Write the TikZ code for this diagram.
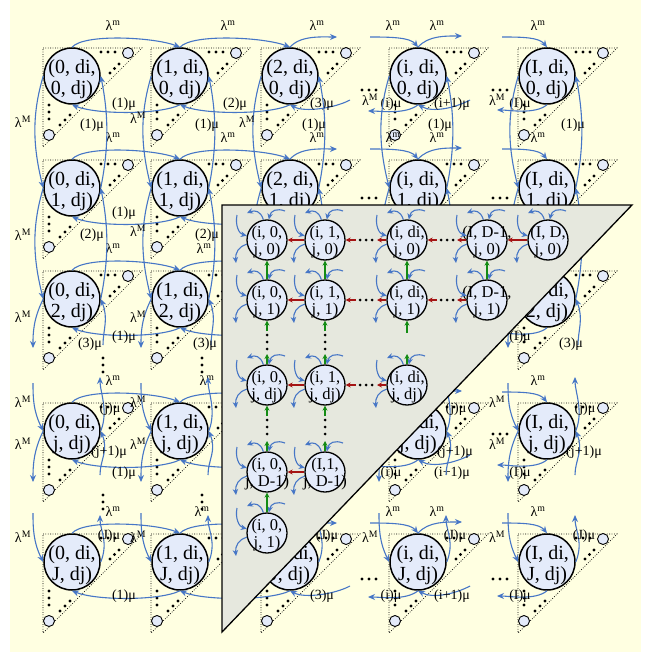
\documentclass[tikz,border=0pt]{standalone}
\usepackage{fontspec}
\setmainfont{Liberation Serif}
\usetikzlibrary{arrows.meta}
\definecolor{bgyel}{RGB}{255,255,225}
\definecolor{cfill}{RGB}{228,235,250}
\definecolor{arrblue}{RGB}{70,118,198}
\definecolor{trigray}{RGB}{230,232,222}
\definecolor{dred}{RGB}{165,20,20}
\definecolor{dgreen}{RGB}{20,140,20}
\tikzset{
  bigc/.style={circle,draw=black,line width=1.5pt,fill=cfill,minimum size=56pt,inner sep=0pt},
  bigt/.style={inner sep=0pt,font=\fontsize{20}{21}\selectfont,align=center},
  smallc/.style={circle,draw=black,line width=1.3pt,fill=cfill,minimum size=40pt,inner sep=0pt},
  smallt/.style={inner sep=0pt,font=\fontsize{16.5}{17}\selectfont,align=center},
  barr/.style={draw=arrblue,line width=1.1pt,-{Stealth[length=7pt,width=6pt]}},
  sarr/.style={draw=arrblue,line width=1.1pt,-{Stealth[length=6pt,width=5.5pt]}},
  rarr/.style={draw=dred,line width=1.4pt,-{Stealth[length=5pt,width=5pt]}},
  garr/.style={draw=dgreen,line width=1.2pt,-{Stealth[length=5pt,width=5pt]}},
  lab/.style={inner sep=0pt,font=\fontsize{14}{14}\selectfont},
  dotl/.style={line width=0.7pt,dash pattern=on 0.8pt off 1.6pt},
}
\newcommand\Lmin{λ\textsuperscript{m}}
\newcommand\LMax{λ\textsuperscript{M}}
% label placed only where the grey triangle does not cover it
\newcommand\Lab[4]{%
  \pgfmathtruncatemacro\LabHid{((#2>214)&&(#3>199)&&(#2+#3<852))?1:0}%
  \ifnum\LabHid=0 \node[lab] (#1) at (#2,#3) {#4};\fi
}
% big cell: name, x, y, text
\newcommand\BigCell[4]{%
  \draw[dotl] (#2-29,#3-28) -- (#2+70,#3-28) -- (#2-29,#3+71) -- cycle;
  \draw[line width=0.9pt,fill=cfill] (#2+56,#3-23) circle (5.5pt);
  \draw[line width=0.9pt,fill=cfill] (#2-23,#3+59) circle (5.5pt);
  \foreach \d in {0,7,14}{\fill (#2+29+\d,#3-24) circle (1.6pt);}
  \foreach \d in {0,4.5,9}{\fill (#2+38+\d,#3-3-\d) circle (1.6pt);}
  \foreach \d in {0,7,14}{\fill (#2-23,#3+29+\d) circle (1.6pt);}
  \foreach \d in {0,5,10}{\fill (#2-12+\d,#3+49-\d) circle (1.6pt);}
  \node[bigc] (#1) at (#2,#3) {};
  \pgfmathtruncatemacro\CellHid{((#2>214)&&(#3>199)&&(#2+#3<814))?1:0}%
  \ifnum\CellHid=0 \node[bigt] (#1t) at (#2,#3+3) {#4};\fi
}
% horizontal arrows of a row: row, y, mu label dy, x of 2nd lambda label
\newcommand\HRow[4]{%
  \draw[barr] (B0#1.north) .. controls +(12,-14) and +(-25,-10) .. (B1#1.north);
  \Lab{Lma#1}{113}{#2-50}{\Lmin}
  \draw[barr] (B1#1.south) .. controls +(-20,10) and +(25,10) .. (B0#1.south);
  \Lab{Mua#1}{124}{#2+#3}{(1)μ}
  \draw[barr] (B1#1.north) .. controls +(12,-14) and +(-25,-10) .. (B2#1.north);
  \Lab{Lmb#1}{#4}{#2-50}{\Lmin}
  \draw[barr] (B2#1.south) .. controls +(-20,10) and +(25,10) .. (B1#1.south);
  \Lab{Mub#1}{235}{#2+#3}{(2)μ}
  \coordinate (HAa#1) at (337,#2-39);
  \draw[barr] (B2#1.north) .. controls +(10,-12) and +(-15,0) .. (HAa#1);
  \Lab{Lmc#1}{317}{#2-50}{\Lmin}
  \coordinate (HAb#1) at (350,#2+24);
  \draw[barr] (HAb#1) .. controls +(-15,8) and +(15,8) .. (B2#1.south);
  \Lab{Muc#1}{322}{#2+#3}{(3)μ}
  \coordinate (HBa#1) at (370,#2-39);
  \draw[barr] (HBa#1) .. controls +(20,0) and +(-8,-10) .. (Bi#1.north);
  \Lab{Lmd#1}{393}{#2-50}{\Lmin}
  \coordinate (HBb#1) at (368,#2+35);
  \draw[barr] (Bi#1.south) .. controls +(-12,10) and +(12,0) .. (HBb#1);
  \Lab{Mud#1}{391}{#2+#3}{(i)μ}
  \coordinate (HCa#1) at (462,#2-40);
  \draw[barr] (Bi#1.north) .. controls +(10,-12) and +(-15,0) .. (HCa#1);
  \Lab{Lme#1}{437}{#2-50}{\Lmin}
  \coordinate (HCb#1) at (470,#2+24);
  \draw[barr] (HCb#1) .. controls +(-15,8) and +(15,8) .. (Bi#1.south);
  \Lab{Mue#1}{452}{#2+#3}{(i+1)μ}
  \coordinate (HDa#1) at (502,#2-39);
  \draw[barr] (HDa#1) .. controls +(20,0) and +(-8,-10) .. (BI#1.north);
  \Lab{Lmf#1}{538}{#2-50}{\Lmin}
  \coordinate (HDb#1) at (497,#2+34);
  \draw[barr] (BI#1.south) .. controls +(-12,10) and +(12,0) .. (HDb#1);
  \Lab{Muf#1}{520}{#2+#3}{(I)μ}
}
% vertical arrows of a column: col, x, mu label dx, lambda-M label dx, first lambda-M label y
\newcommand\VCol[5]{%
  \draw[barr] (B#10.west) .. controls +(-12,40) and +(-10,-40) .. (B#11.west);
  \Lab{LMa#1}{#2-#4}{#5}{\LMax}
  \draw[barr] (B#11.east) .. controls +(8,-40) and +(8,40) .. (B#10.east);
  \Lab{MVa#1}{#2+#3}{125}{(1)μ}
  \draw[barr] (B#11.west) .. controls +(-12,40) and +(-10,-40) .. (B#12.west);
  \Lab{LMb#1}{#2-#4}{#5+113}{\LMax}
  \draw[barr] (B#12.east) .. controls +(8,-40) and +(8,40) .. (B#11.east);
  \Lab{MVb#1}{#2+#3}{235}{(2)μ}
  \coordinate (VAa#1) at (#2-39,348);
  \draw[barr] (B#12.west) .. controls +(-10,20) and +(0,-15) .. (VAa#1);
  \Lab{LMc#1}{#2-#4}{317}{\LMax}
  \coordinate (VAb#1) at (#2+31,345);
  \draw[barr] (VAb#1) .. controls +(0,-15) and +(8,20) .. (B#12.east);
  \Lab{MVc#1}{#2+#3-2}{344}{(3)μ}
  \coordinate (VBa#1) at (#2-39,383);
  \draw[barr] (VBa#1) .. controls +(0,15) and +(-10,-20) .. (B#1j.west);
  \Lab{LMd#1}{#2-#4}{402}{\LMax}
  \coordinate (VBb#1) at (#2+28,377);
  \draw[barr] (B#1j.east) .. controls +(8,-20) and +(0,15) .. (VBb#1);
  \Lab{MVd#1}{#2+38}{409}{(j)μ}
  \coordinate (VCa#1) at (#2-39,482);
  \draw[barr] (B#1j.west) .. controls +(-10,20) and +(0,-15) .. (VCa#1);
  \Lab{LMe#1}{#2-#4}{444}{\LMax}
  \coordinate (VCb#1) at (#2+28,475);
  \draw[barr] (VCb#1) .. controls +(0,-15) and +(8,20) .. (B#1j.east);
  \Lab{MVe#1}{#2+37}{452}{(j+1)μ}
  \coordinate (VDa#1) at (#2-39,513);
  \draw[barr] (VDa#1) .. controls +(0,15) and +(-10,-20) .. (B#1J.west);
  \Lab{LMf#1}{#2-#4}{537}{\LMax}
  \coordinate (VDb#1) at (#2+28,515);
  \draw[barr] (B#1J.east) .. controls +(8,-20) and +(0,15) .. (VDb#1);
  \Lab{MVf#1}{#2+37}{536}{(J)μ}
}
% small cell: name, x, y, text
\newcommand\SCell[4]{%
  \node[smallc] (#1) at (#2,#3) {};
  \node[smallt] (#1t) at (#2,#3+2) {#4};
  \coordinate (#1tl) at (#2-20,#3-27);
  \coordinate (#1tr) at (#2+18,#3-29);
  \coordinate (#1la) at (#2-30,#3-25);
  \coordinate (#1lb) at (#2-31,#3+23);
  \draw[sarr] (#1.100) .. controls +(-3,-9) and +(8,-3) .. (#1tl);
  \draw[sarr] (#1tr) .. controls +(-8,-3) and +(2,-9) .. (#1.85);
  \draw[sarr] (#1la) .. controls +(-2,10) and +(-8,-2) .. (#1.168);
  \draw[sarr] (#1.192) .. controls +(-8,2) and +(-1,-10) .. (#1lb);
}
\begin{document}
\begin{tikzpicture}[x=1pt,y=-1pt]
\useasboundingbox (0,0) rectangle (645,655);
\fill[bgyel] (10,0) rectangle (641,652);
% big grid
\foreach \colN/\colX in {0/72,1/180,2/290,i/418,I/547}{
  \foreach \rowN/\rowY in {0/76,1/188,2/299,j/431,J/562}{
    \BigCell{B\colN\rowN}{\colX}{\rowY}{(\colN, di,\\ \rowN, dj)}
  }
}
\HRow{0}{76}{28}{228}
\HRow{1}{188}{25}{228}
\HRow{2}{299}{38}{204}
\HRow{j}{431}{42}{207}
\HRow{J}{562}{34}{202}
\VCol{0}{72}{20}{49}{122}
\VCol{1}{180}{27}{42}{118}
\VCol{2}{290}{24}{43}{122}
\VCol{i}{418}{22}{48}{100}
\VCol{I}{547}{26}{50}{100}
% separators
\foreach \y in {90,198,579}{\foreach \x in {362,369,376}{\fill (\x,\y) circle (1.6pt);}}
\foreach \y in {90,198,434,579}{\foreach \x in {493,500,507}{\fill (\x,\y) circle (1.6pt);}}
\foreach \x in {103,202}{\foreach \y in {358,365,372,495,502,509}{\fill (\x,\y) circle (1.6pt);}}
% gray triangle
\draw[fill=trigray,line width=1.3pt] (222,205) -- (632,205) -- (222,632) -- cycle;
% small grid
\SCell{Sa0}{267}{240}{(i, 0,\\ j, 0)}
\SCell{Sb0}{325}{240}{(i, 1,\\ j, 0)}
\SCell{Sc0}{407}{240}{(i, di,\\ j, 0)}
\SCell{Sd0}{487}{240}{(I, D-1,\\ j, 0)}
\SCell{Se0}{548}{240}{(I, D,\\ j, 0)}
\SCell{Sa1}{267}{300}{(i, 0,\\ j, 1)}
\SCell{Sb1}{325}{300}{(i, 1,\\ j, 1)}
\SCell{Sc1}{407}{300}{(i, di,\\ j, 1)}
\SCell{Sd1}{487}{300}{(I, D-1,\\ j, 1)}
\SCell{Sa2}{267}{385}{(i, 0,\\ j, dj)}
\SCell{Sb2}{325}{385}{(i, 1,\\ j, dj)}
\SCell{Sc2}{407}{385}{(i, di,\\ j, dj)}
\SCell{Sa3}{267}{472}{(i, 0,\\ j, D-1)}
\SCell{Sb3}{325}{472}{(I,1,\\ j, D-1)}
\SCell{Sa4}{267}{533}{(i, 0,\\ j, 1)}
% red arrows
\foreach \y/\r in {240/0,300/1,385/2}{
  \draw[rarr] (Sb\r.west) -- (Sa\r.east);
  \coordinate (Rp\r) at (356,\y);
  \coordinate (Rq\r) at (377,\y);
  \draw[rarr] (Rp\r) -- (Sb\r.east);
  \draw[rarr] (Sc\r.west) -- (Rq\r);
  \foreach \x in {360,366,372}{\fill (\x,\y) circle (1.5pt);}
}
\foreach \y/\r in {240/0,300/1}{
  \coordinate (Rs\r) at (437,\y);
  \coordinate (Rt\r) at (457,\y);
  \draw[rarr] (Rs\r) -- (Sc\r.east);
  \draw[rarr] (Sd\r.west) -- (Rt\r);
  \foreach \x in {441,447,453}{\fill (\x,\y) circle (1.5pt);}
}
\draw[rarr] (Se0.west) -- (Sd0.east);
\draw[rarr] (Sb3.west) -- (Sa3.east);
% green arrows
\foreach \c in {a,b,c,d}{\draw[garr] (S\c1.north) -- (S\c0.south);}
\foreach \c/\x in {a/267,b/325}{
  \coordinate (Gp\c) at (\x,331);
  \coordinate (Gq\c) at (\x,354);
  \draw[garr] (Gp\c) -- (S\c1.south);
  \draw[garr] (S\c2.north) -- (Gq\c);
  \foreach \y in {335,342,349}{\fill (\x,\y) circle (1.5pt);}
  \coordinate (Gr\c) at (\x,416);
  \coordinate (Gs\c) at (\x,441);
  \draw[garr] (Gr\c) -- (S\c2.south);
  \draw[garr] (S\c3.north) -- (Gs\c);
  \foreach \y in {420,427,434}{\fill (\x,\y) circle (1.5pt);}
}
\coordinate (Gpc) at (407,333);
\coordinate (Gqc) at (407,354);
\draw[garr] (Gpc) -- (Sc1.south);
\draw[garr] (Sc2.north) -- (Gqc);
\draw[garr] (Sa4.north) -- (Sa3.south);
\end{tikzpicture}
\end{document}
